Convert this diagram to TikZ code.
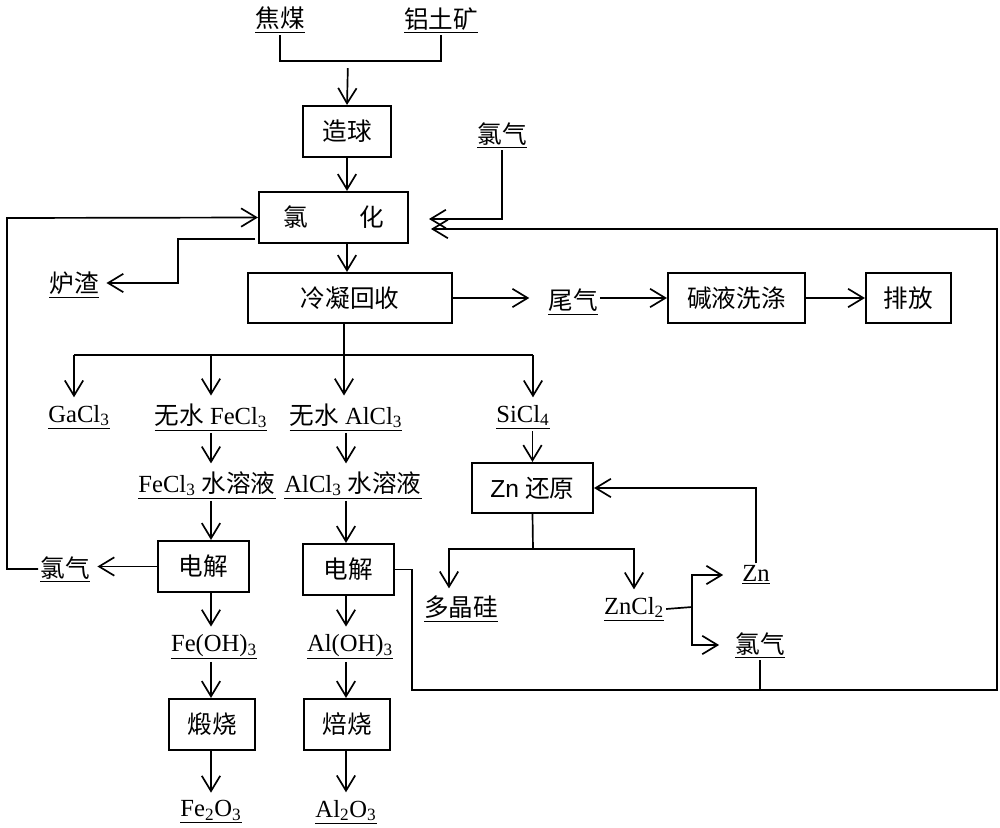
\documentclass[tikz,border=0pt]{standalone}
\usepackage{fontspec}
\setmainfont{Liberation Serif}
\newfontfamily\cjk{Noto Sans CJK SC}
\newfontfamily\lsans{Liberation Sans}
\newcommand{\zh}[1]{{\cjk #1}}
\usetikzlibrary{arrows.meta}
\tikzset{
  box/.style={draw, line width=1.5pt, minimum height=1.275cm, inner sep=0pt},
  lbl/.style={inner sep=1pt},
  arr/.style={-{Straight Barb[length=3.8mm,width=4.6mm,line width=1.2pt]}},
  arrt/.style={arr, shorten >=4pt},
}
\begin{document}
\begin{tikzpicture}[x=0.025cm, y=-0.025cm, line width=1.2pt, font=\fontsize{17.5}{21}\selectfont]
\useasboundingbox (0,0) rectangle (1000,828);
\node [lbl] (jm) at (280,20) {\underline{\zh{焦煤}}};
\node [lbl] (ltk) at (441,20) {\underline{\zh{铝土矿}}};
\node [box, minimum width=2.2cm] (zq) at (347,131.5) {\zh{造球}};
\node [lbl] (cl1) at (502,135) {\underline{\zh{氯气}}};
\node [box, minimum width=3.725cm] (lh) at (333.5,217.5) {\zh{氯}\hspace{2.1em}\zh{化}};
\node [lbl] (lz) at (74,285) {\underline{\zh{炉渣}}};
\node [box, minimum width=5.1cm, minimum height=1.25cm] (lnhs) at (350,298) {\zh{冷凝回收}};
\node [lbl] (wq) at (573,302) {\underline{\zh{尾气}}};
\node [box, minimum width=3.425cm, minimum height=1.25cm] (jy) at (736.5,298) {\zh{碱液洗涤}};
\node [box, minimum width=2.125cm, minimum height=1.25cm] (pf) at (908.5,298) {\zh{排放}};
\node [lbl] (ga) at (79,417) {\underline{GaCl\textsubscript{3}}};
\node [lbl] (fe1) at (211,417) {\underline{\zh{无水} FeCl\textsubscript{3}}};
\node [lbl] (al1) at (346,417) {\underline{\zh{无水} AlCl\textsubscript{3}}};
\node [lbl] (si) at (523,417) {\underline{SiCl\textsubscript{4}}};
\node [lbl] (fe2) at (207,485) {\underline{FeCl\textsubscript{3} \zh{水溶液}}};
\node [lbl] (al2) at (353,485) {\underline{AlCl\textsubscript{3} \zh{水溶液}}};
\node [box, minimum width=3.025cm, minimum height=1.25cm] (zn) at (532.5,488) {{\lsans Zn} \zh{还原}};
\node [box, minimum width=2.275cm] (djfe) at (203.5,566.5) {\zh{电解}};
\node [box, minimum width=2.275cm] (djal) at (348.5,569.5) {\zh{电解}};
\node [lbl] (cl2) at (65,569) {\underline{\zh{氯气}}};
\node [lbl] (pol) at (461,609) {\underline{\zh{多晶硅}}};
\node [lbl] (zncl) at (634,609) {\underline{ZnCl\textsubscript{2}}};
\node [lbl] (zn2) at (756,575) {\underline{Zn}};
\node [lbl] (cl3) at (760,645) {\underline{\zh{氯气}}};
\node [lbl] (fe3) at (214,647) {\underline{Fe(OH)\textsubscript{3}}};
\node [lbl] (al3) at (350,647) {\underline{Al(OH)\textsubscript{3}}};
\node [box, minimum width=2.15cm] (dsfe) at (212,724.5) {\zh{煅烧}};
\node [box, minimum width=2.15cm] (bsal) at (347,724.5) {\zh{焙烧}};
\node [lbl] (fe4) at (211,812) {\underline{Fe\textsubscript{2}O\textsubscript{3}}};
\node [lbl] (al4) at (346,812) {\underline{Al\textsubscript{2}O\textsubscript{3}}};
\coordinate (mix) at (348,61);
\coordinate (in1) at (429,219);
\coordinate (in2) at (431,229);
\coordinate (lt) at (7,218);
\coordinate (lzs) at (255,239);
\coordinate (lzb) at (178,283);
\coordinate (lb) at (412,690);
\coordinate (rb) at (997,690);
\coordinate (rt) at (997,229);
\coordinate (sp) at (344,355);
\coordinate (spl) at (74,355);
\coordinate (spr) at (533,355);
\coordinate (zs) at (533,549);
\coordinate (zb) at (692,607);
\draw (jm.south) |- (mix) -| (ltk.south);
\draw [arr, shorten <=5pt] (mix) -- (zq.north);
\draw [arr] (zq.south) -- (lh.north -| zq.south);
\draw [arr] (cl1.south) |- (in1);
\draw [arr] (djal.east) -| (lb) -- (rb) -- (rt) -- (in2);
\draw (cl3.south) -- (cl3.south |- lb);
\draw [arr] (cl2.west) -| (lt) -- (lh.west);
\draw [arrt] (lzs) -| (lzb) -- (lzb -| lz.east);
\draw [arr] (lh.south -| zq.south) -- (lnhs.north -| zq.south);
\draw [arr, shorten >=12pt] (lnhs.east) -- (lnhs.east -| wq.west);
\draw [arr] (jy.west -| wq.east) -- (jy.west);
\draw [arr] (jy.east) -- (pf.west);
\draw (lnhs.south -| sp) -- (sp);
\draw (spl) -- (spr);
\draw [arrt] (spl) -- (spl |- ga.north);
\draw [arrt] (sp -| fe1.north) -- (fe1.north);
\draw [arrt] (sp) -- (al1.north -| sp);
\draw [arrt] (spr) -- (spr |- si.north);
\draw [arrt] (fe1.south) -- (fe1.south |- fe2.north);
\draw [arrt] (al1.south) -- (al1.south |- al2.north);
\draw [arr] (fe2.south -| fe1.south) -- (djfe.north -| fe1.south);
\draw [arr] (al2.south -| al1.south) -- (djal.north -| al1.south);
\draw [arrt] (djfe.west) -- (djfe.west -| cl2.east);
\draw [arrt] (djfe.south -| fe4.north) -- (fe3.north -| fe4.north);
\draw [arr] (fe3.south -| fe4.north) -- (dsfe.north -| fe4.north);
\draw [arrt] (dsfe.south -| fe4.north) -- (fe4.north);
\draw [arrt] (djal.south -| al4.north) -- (al3.north -| al4.north);
\draw [arr] (al3.south -| al4.north) -- (bsal.north -| al4.north);
\draw [arrt] (bsal.south -| al4.north) -- (al4.north);
\draw [arr] (si.south -| zn.north) -- (zn.north);
\draw (zn.south) -- (zs);
\draw [arrt] (zs) -| ([xshift=-0.3cm]pol.north);
\draw [arrt] (zs) -| (zncl.north);
\draw (zncl.east) -- (zb);
\draw [arr, shorten >=12pt] (zb) |- (zn2.west);
\draw [arr, shorten >=10pt] (zb) |- (cl3.west);
\draw [arr] (zn2.north) |- (zn.east);
\end{tikzpicture}
\end{document}
